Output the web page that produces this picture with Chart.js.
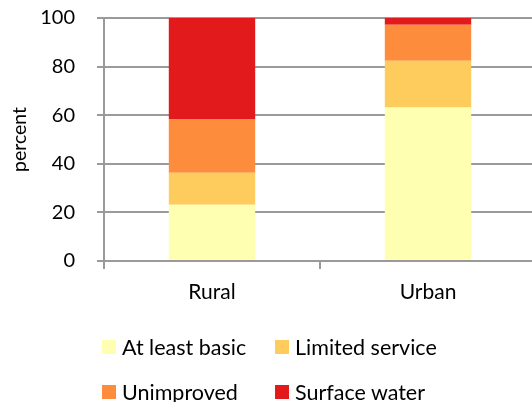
<!DOCTYPE html>
<html>
<head>
<meta charset="utf-8">
<script src="https://cdn.jsdelivr.net/npm/chart.js@4"></script>
<style>
  html, body { margin: 0; padding: 0; background: #fff; overflow: hidden; width: 532px; height: 402px; }
  #wrap { position: relative; width: 536px; height: 402px; }
  #c { position: absolute; left: 0; top: 0; }
  .legend { position: absolute; left: 0; top: 0; font-family: Lato, "Open Sans", sans-serif; font-size: 21.5px; color: #000; }
  .item { position: absolute; white-space: nowrap; display: flex; align-items: center; }
  .box { width: 14px; height: 14px; margin-right: 6px; display: inline-block; }
</style>
</head>
<body>
<div id="wrap">
  <canvas id="c" width="536" height="402"></canvas>
  <div class="legend" id="legend"></div>
</div>
<script>
const categories = ["Rural", "Urban"];
const seriesNames = ["At least basic", "Limited service", "Unimproved", "Surface water"];
const atLeastBasic = [23.1, 63.2];
const limitedService = [13.2, 19.2];
const unimproved = [21.9, 14.8];
const surfaceWater = [41.8, 2.8];
const colors = ["#FFFFB2", "#FECC5C", "#FD8D3C", "#E31A1C"];
const yTicks = [0, 20, 40, 60, 80, 100];

const seriesValues = [atLeastBasic, limitedService, unimproved, surfaceWater];
const gridColor = "#9a9a9a";
const fontFamily = "Lato, 'Open Sans', sans-serif";

new Chart(document.getElementById("c"), {
  type: "bar",
  data: {
    labels: categories,
    datasets: seriesNames.map((n, i) => ({
      label: n,
      data: seriesValues[i],
      backgroundColor: colors[i],
      borderWidth: 0,
      categoryPercentage: 1,
      barPercentage: 0.4
    }))
  },
  options: {
    responsive: false,
    animation: false,
    layout: { padding: { top: 18, bottom: 81, left: 0, right: 0 } },
    plugins: { legend: { display: false }, tooltip: { enabled: false } },
    scales: {
      x: {
        stacked: true,
        afterFit: s => { s.height = 60; s.paddingLeft = 0; s.paddingRight = 0; },
        grid: { drawOnChartArea: false, drawTicks: true, tickLength: 8, color: gridColor, lineWidth: 2, offset: true },
        border: { display: true, color: gridColor, width: 2 },
        ticks: { color: "#000", font: { family: fontFamily, size: 21 }, padding: 11 }
      },
      y: {
        stacked: true,
        min: 0, max: 100,
        afterFit: s => { s.width = 104; s.paddingTop = 0; s.paddingBottom = 0; },
        afterBuildTicks: s => { s.ticks = yTicks.map(v => ({ value: v })); },
        grid: { color: gridColor, lineWidth: 2, tickLength: 7, drawTicks: true },
        border: { display: true, color: gridColor, width: 2 },
        ticks: { color: "#000", font: { family: fontFamily, size: 20 }, padding: 22 },
        title: { display: true, text: "percent", color: "#000", font: { family: fontFamily, size: 19.5 }, padding: { top: 8, bottom: 0 } }
      }
    }
  }
});

const legend = document.getElementById("legend");
const pos = [[102, 347], [275, 347], [102, 392], [275, 392]];
seriesNames.forEach((n, i) => {
  const d = document.createElement("div");
  d.className = "item";
  d.style.left = pos[i][0] + "px";
  d.style.top = (pos[i][1] - 13) + "px";
  d.style.height = "26px";
  const b = document.createElement("span");
  b.className = "box";
  b.style.background = colors[i];
  const t = document.createElement("span");
  t.textContent = n;
  d.appendChild(b); d.appendChild(t);
  legend.appendChild(d);
});
</script>
</body>
</html>
